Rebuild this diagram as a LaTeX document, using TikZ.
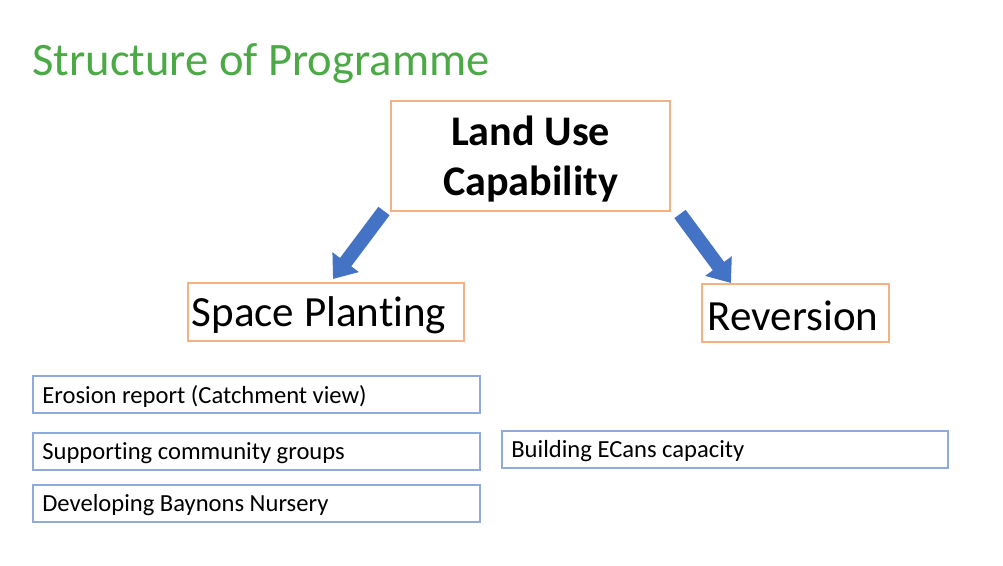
\documentclass[tikz,border=0pt]{standalone}
\usepackage{fontspec}
\setmainfont[Ligatures={NoCommon}]{Carlito}
\usetikzlibrary{arrows.meta}
\definecolor{ttl}{RGB}{76,170,70}
\definecolor{org}{RGB}{244,177,131}
\definecolor{lbl}{RGB}{143,170,220}
\definecolor{arr}{RGB}{68,114,196}
\begin{document}
\begin{tikzpicture}[x=0.02cm,y=-0.02cm,
 obox/.style={draw=org,line width=0.8pt},
 bbox/.style={draw=lbl,line width=0.8pt},
 barrow/.style={draw=arr,line width=8pt,-{Triangle[width=18pt,length=12pt]}}]
\useasboundingbox (0,0) rectangle (1003,565);
\node[anchor=west,text=ttl,font=\fontsize{26.5}{32}\selectfont,inner sep=0pt] (title) at (32,64) {Structure of Programme};
\draw[obox] (391,101) rectangle (670,211);
\node[align=center,font=\bfseries\fontsize{24}{29}\selectfont] (luc) at (530.5,159) {Land Use\\Capability};
\draw[obox] (188,283) rectangle (464,341);
\node[font=\fontsize{24.5}{30}\selectfont] (sp) at (319,315) {Space Planting};
\draw[obox] (702,284) rectangle (889,342);
\node[font=\fontsize{24.5}{30}\selectfont] (rev) at (793,316) {Reversion};
\tikzset{small/.style={anchor=west,font=\fontsize{14}{17}\selectfont,inner sep=0pt}}
\draw[bbox] (33,376) rectangle (480,413);
\draw[bbox] (33,433) rectangle (480,470);
\draw[bbox] (33,485) rectangle (480,522);
\draw[bbox] (502,431) rectangle (948,468);
\node[small] (e) at (42,396) {Erosion report (Catchment view)};
\node[small] (s) at (42,453) {Supporting community groups};
\node[small] (d) at (42,505) {Developing Baynons Nursery};
\node[small] (b) at (511,451) {Building ECans capacity};
\coordinate (la) at (384,211);
\coordinate (lb) at (333,279);
\coordinate (ra) at (680,214);
\coordinate (rb) at (731,283);
\draw[barrow] (la) -- (lb);
\draw[barrow] (ra) -- (rb);
\end{tikzpicture}
\end{document}
